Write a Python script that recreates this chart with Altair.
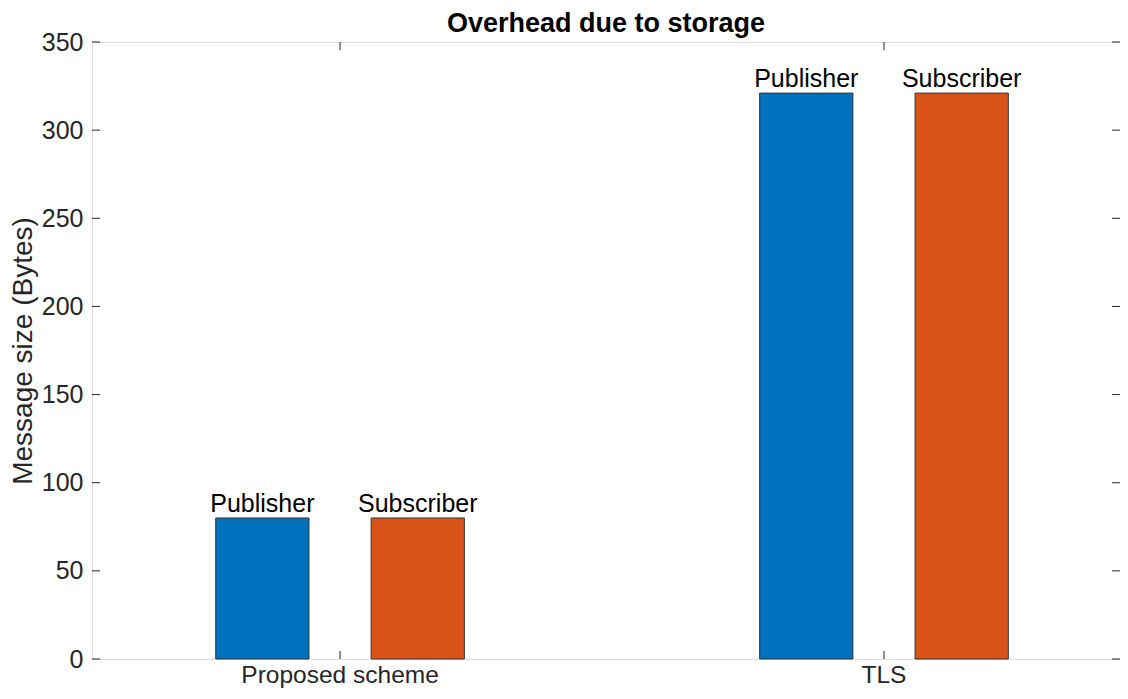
import altair as alt
import pandas as pd

categories = ["Proposed scheme", "TLS"]
series = ["Publisher", "Subscriber"]
publisher = [80, 321]
subscriber = [80, 321]
y_ticks = [0, 50, 100, 150, 200, 250, 300, 350]
colors = ["#0072BD", "#D95319"]

rows = []
for i, c in enumerate(categories):
    rows.append({"category": c, "series": "Publisher", "value": publisher[i]})
    rows.append({"category": c, "series": "Subscriber", "value": subscriber[i]})
df = pd.DataFrame(rows)
ticks_df = pd.DataFrame({"v": y_ticks})
cat_df = pd.DataFrame({"category": categories})

W, H = 1028, 617
FONT = "Liberation Sans"
AX = "#262626"

xscale = alt.Scale(domain=categories, paddingInner=0.2, paddingOuter=0.045, align=0.623)
yscale = alt.Scale(domain=[0, 350], nice=False)
xo_scale = alt.Scale(domain=series, paddingInner=0.4, paddingOuter=0.6)

x_enc = alt.X("category:N", scale=xscale, sort=categories,
              axis=alt.Axis(title=None, labelAngle=0, ticks=False, domain=False,
                            labelFont=FONT, labelFontSize=24.5, labelColor=AX,
                            labelPadding=4, labelLimit=500))
y_enc = alt.Y("value:Q", scale=yscale,
              axis=alt.Axis(title="Message size (Bytes)", values=y_ticks, ticks=False,
                            domain=False, grid=False, labelFont=FONT, labelFontSize=25,
                            labelColor=AX, labelPadding=9, titleFont=FONT,
                            titleFontSize=28, titleFontWeight="normal", titleColor=AX,
                            titlePadding=4))

bars = alt.Chart(df).mark_bar(stroke="#333333", strokeWidth=1).encode(
    x=x_enc,
    xOffset=alt.XOffset("series:N", scale=xo_scale, sort=series),
    y=y_enc,
    color=alt.Color("series:N", scale=alt.Scale(domain=series, range=colors), legend=None),
)

labels = alt.Chart(df).mark_text(font=FONT, fontSize=25, color="#000000",
                                 baseline="alphabetic", dy=-6).encode(
    x=alt.X("category:N", scale=xscale, sort=categories),
    xOffset=alt.XOffset("series:N", scale=xo_scale, sort=series),
    y=alt.Y("value:Q", scale=yscale),
    text="series:N",
)

left_ticks = alt.Chart(ticks_df).mark_rule(color=AX, strokeWidth=1).encode(
    y=alt.Y("v:Q", scale=yscale), x=alt.value(0), x2=alt.value(8))
right_ticks = alt.Chart(ticks_df).mark_rule(color=AX, strokeWidth=1).encode(
    y=alt.Y("v:Q", scale=yscale), x=alt.value(W - 8), x2=alt.value(W))
top_ticks = alt.Chart(cat_df).mark_rule(color=AX, strokeWidth=1).encode(
    x=alt.X("category:N", scale=xscale, sort=categories), y=alt.value(0), y2=alt.value(8))
bottom_ticks = alt.Chart(cat_df).mark_rule(color=AX, strokeWidth=1).encode(
    x=alt.X("category:N", scale=xscale, sort=categories), y=alt.value(H - 8), y2=alt.value(H))

chart = alt.layer(bars, labels, left_ticks, right_ticks, top_ticks, bottom_ticks).properties(
    width=W, height=H,
    title=alt.TitleParams("Overhead due to storage", font=FONT, fontSize=27,
                          fontWeight="bold", color="#000000", offset=-8, frame="group"),
    autosize=alt.AutoSizeParams(type="none"),
    padding={"left": 84, "top": 34, "right": 0, "bottom": 32},
).configure_view(stroke="#555555", strokeWidth=1).configure(background="white")

chart.save("out.html", embed_options={"renderer": "svg", "actions": False})
